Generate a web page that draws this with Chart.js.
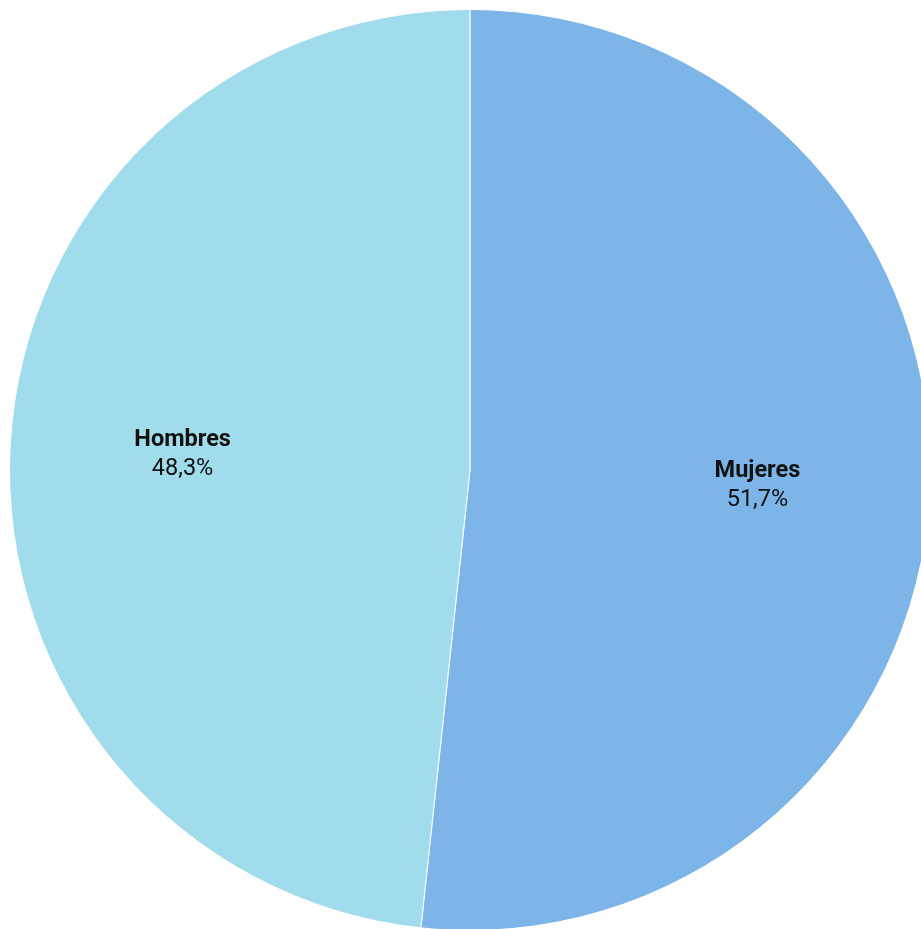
<!DOCTYPE html>
<html>
<head>
<meta charset="utf-8">
<script src="https://cdn.jsdelivr.net/npm/chart.js@4"></script>
<style>
    html, body { margin: 0; padding: 0; overflow: hidden; background: #ffffff; }
    #wrap { position: absolute; left: 0; top: 0; width: 940px; height: 940px; }
</style>
</head>
<body>
<div id="wrap"><canvas id="sexoChart"></canvas></div>
<script>
// Población por sexo
const categorias = ['Mujeres', 'Hombres'];
const porcentajes = [51.7, 48.3];
const colores = ['#7db5e9', '#a1dcec'];

// Draws category name (bold) and percentage inside each slice
const sliceLabels = {
    id: 'sliceLabels',
    afterDatasetsDraw(chart) {
        const ctx = chart.ctx;
        const meta = chart.getDatasetMeta(0);
        meta.data.forEach((arc, i) => {
            const mid = (arc.startAngle + arc.endAngle) / 2;
            const r = arc.outerRadius * 0.625;
            const x = arc.x + Math.cos(mid) * r;
            const y = arc.y + Math.sin(mid) * r;
            ctx.save();
            ctx.fillStyle = '#111111';
            ctx.textAlign = 'center';
            ctx.textBaseline = 'middle';
            ctx.font = 'bold 23.5px Roboto';
            ctx.fillText(categorias[i], x, y - 14.5);
            ctx.font = '23.5px Roboto';
            ctx.fillText(porcentajes[i].toFixed(1).replace('.', ',') + '%', x, y + 14.5);
            ctx.restore();
        });
    }
};

document.addEventListener('DOMContentLoaded', function() {
    const ctx = document.getElementById('sexoChart').getContext('2d');
    new Chart(ctx, {
        type: 'pie',
        data: {
            labels: categorias,
            datasets: [{
                data: porcentajes,
                backgroundColor: colores,
                borderColor: '#ffffff',
                borderWidth: 1
            }]
        },
        options: {
            responsive: true,
            maintainAspectRatio: false,
            animation: false,
            layout: { padding: 9 },
            plugins: {
                legend: { display: false },
                tooltip: { enabled: false }
            }
        },
        plugins: [sliceLabels]
    });
});
</script>
</body>
</html>
